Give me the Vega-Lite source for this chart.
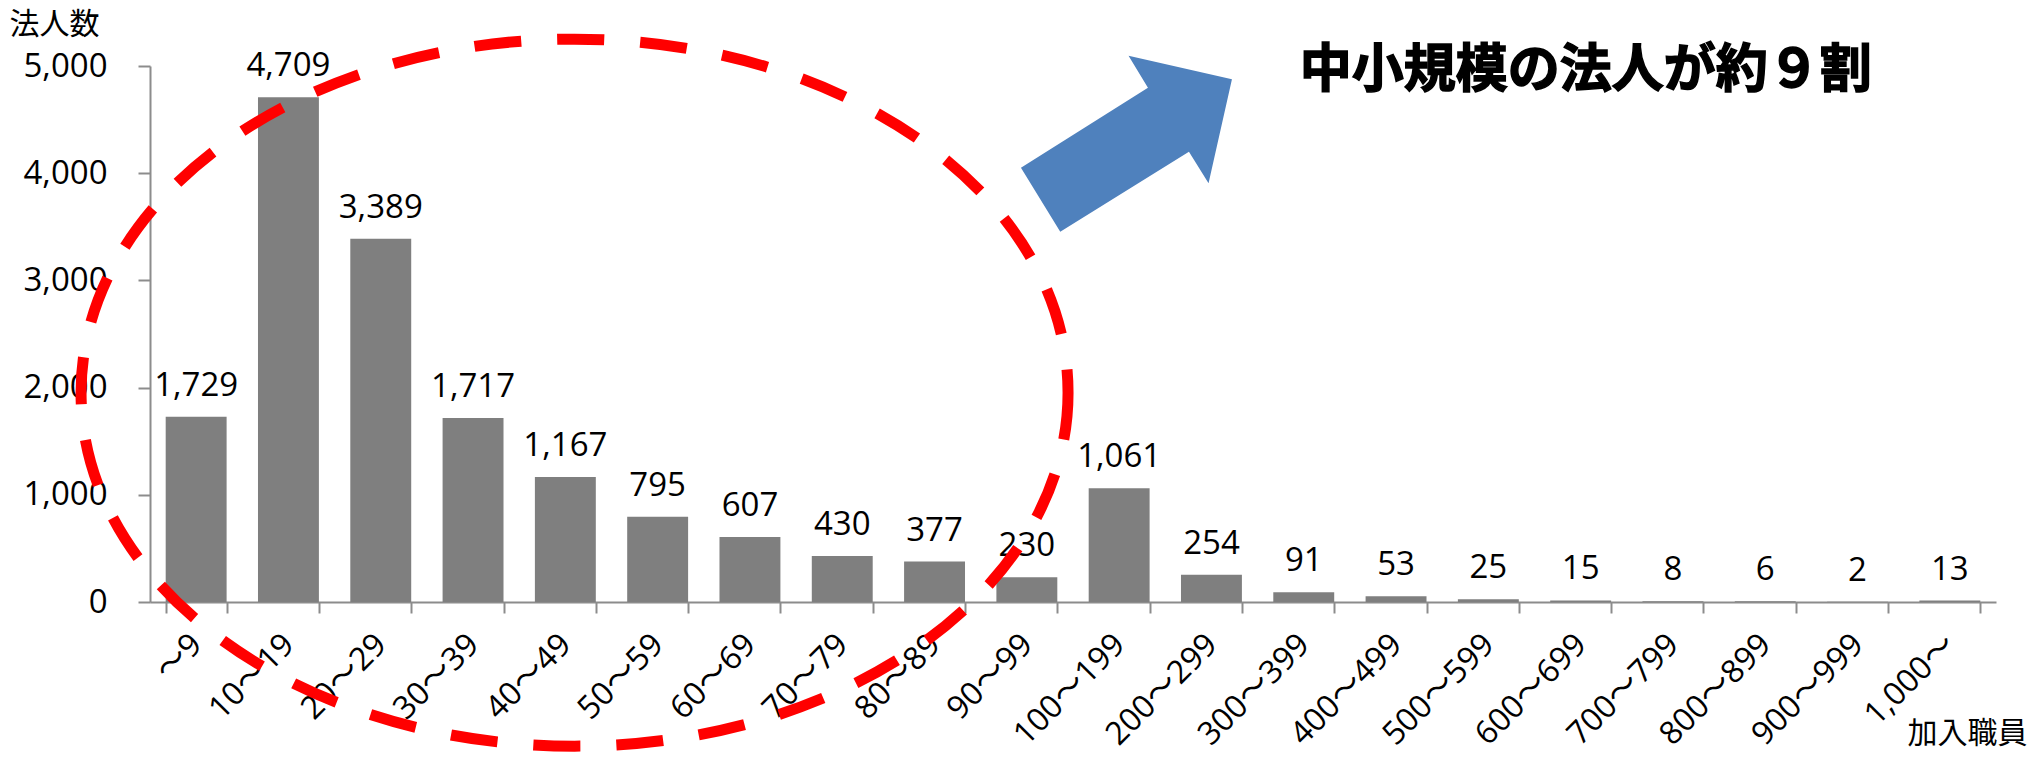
{
  "$schema": "https://vega.github.io/schema/vega-lite/v6.json",
  "width": 1846,
  "height": 536,
  "autosize": {"type": "none"},
  "padding": {"left": 150, "top": 66, "right": 34, "bottom": 155},
  "background": "white",
  "config": {"view": {"stroke": null}, "font": "Open Sans"},
  "data": {
    "values": [
      {"range": "～9", "count": 1729},
      {"range": "10～19", "count": 4709},
      {"range": "20～29", "count": 3389},
      {"range": "30～39", "count": 1717},
      {"range": "40～49", "count": 1167},
      {"range": "50～59", "count": 795},
      {"range": "60～69", "count": 607},
      {"range": "70～79", "count": 430},
      {"range": "80～89", "count": 377},
      {"range": "90～99", "count": 230},
      {"range": "100～199", "count": 1061},
      {"range": "200～299", "count": 254},
      {"range": "300～399", "count": 91},
      {"range": "400～499", "count": 53},
      {"range": "500～599", "count": 25},
      {"range": "600～699", "count": 15},
      {"range": "700～799", "count": 8},
      {"range": "800～899", "count": 6},
      {"range": "900～999", "count": 2},
      {"range": "1,000～", "count": 13}
    ]
  },
  "layer": [
    {
      "mark": {"type": "bar", "color": "#7F7F7F"},
      "encoding": {
        "x": {
          "field": "range",
          "type": "nominal",
          "sort": null,
          "scale": {"paddingInner": 0.34, "paddingOuter": 0.17},
          "axis": {
            "title": "加入職員",
            "titleFont": "Noto Sans CJK JP",
            "titleFontSize": 30,
            "titleFontWeight": "normal",
            "titleColor": "#000000",
            "titleAngle": 0,
            "titleAlign": "right",
            "titleBaseline": "bottom",
            "titleX": 1877,
            "titleY": 146,
            "labelAngle": -45,
            "labelAlign": "right",
            "labelBaseline": "middle",
            "labelFont": "Open Sans, Noto Sans CJK JP",
            "labelFontSize": 32,
            "labelColor": "#000000",
            "labelPadding": 26,
            "labelOverlap": false,
            "labelBound": false,
            "tickSize": 11,
            "tickWidth": 2,
            "tickColor": "#8C8C8C",
            "domainColor": "#8C8C8C",
            "domainWidth": 2,
            "tickBand": "extent",
            "grid": false
          }
        },
        "y": {
          "field": "count",
          "type": "quantitative",
          "scale": {"domain": [0, 5000], "nice": false},
          "axis": {
            "title": "法人数",
            "titleFont": "Noto Sans CJK JP",
            "titleFontSize": 30,
            "titleFontWeight": "normal",
            "titleColor": "#000000",
            "titleAngle": 0,
            "titleAlign": "left",
            "titleBaseline": "top",
            "titleX": -141,
            "titleY": -57,
            "values": [0, 1000, 2000, 3000, 4000, 5000],
            "labelExpr": "format(datum.value, ',')",
            "labelFont": "Open Sans",
            "labelFontSize": 33,
            "labelColor": "#000000",
            "labelPadding": 31,
            "tickSize": 12,
            "tickWidth": 2,
            "tickColor": "#8C8C8C",
            "domainColor": "#8C8C8C",
            "domainWidth": 2,
            "grid": false
          }
        }
      }
    },
    {
      "mark": {"type": "text", "font": "Open Sans", "fontSize": 33, "color": "#000000", "baseline": "alphabetic", "dy": -21},
      "encoding": {
        "x": {"field": "range", "type": "nominal", "sort": null},
        "y": {"field": "count", "type": "quantitative"},
        "text": {"field": "count", "type": "quantitative", "format": ","}
      }
    },
    {
      "data": {"values": [{"note": "ellipse"}]},
      "mark": {
        "type": "point",
        "shape": "M 5.027 0 C 5.027 1.952 2.818 3.535 0.092 3.535 C -2.634 3.535 -4.843 1.952 -4.843 0 C -4.843 -1.952 -2.634 -3.535 0.092 -3.535 C 2.818 -3.535 5.027 -1.952 5.027 0 Z",
        "size": 40000,
        "filled": false,
        "stroke": "#FF0000",
        "strokeWidth": 11,
        "strokeDash": [47, 36],
        "opacity": 1
      },
      "encoding": {
        "x": {"datum": "40～49", "type": "nominal"},
        "y": {"datum": 1953, "type": "quantitative"}
      }
    },
    {
      "data": {"values": [{"note": "arrow"}]},
      "mark": {
        "type": "point",
        "shape": "M -0.589 0.877 L -0.982 0.237 L 0.288 -0.563 L 0.094 -0.883 L 1.128 -0.647 L 0.894 0.393 L 0.698 0.077 Z",
        "size": 40000,
        "filled": true,
        "fill": "#4F81BD",
        "strokeWidth": 0,
        "opacity": 1
      },
      "encoding": {
        "x": {"datum": "100～199", "type": "nominal"},
        "y": {"datum": 4272, "type": "quantitative"}
      }
    },
    {
      "data": {"values": [{"note": "中小規模の法人が約９割"}]},
      "mark": {
        "type": "text",
        "font": "Noto Sans CJK JP",
        "fontSize": 52,
        "fontWeight": "bold",
        "color": "#000000",
        "stroke": "#000000",
        "strokeWidth": 1.5,
        "align": "center",
        "baseline": "middle",
        "dx": 5
      },
      "encoding": {
        "x": {"datum": "600～699", "type": "nominal"},
        "y": {"datum": 4958, "type": "quantitative"},
        "text": {"field": "note", "type": "nominal"}
      }
    }
  ]
}
